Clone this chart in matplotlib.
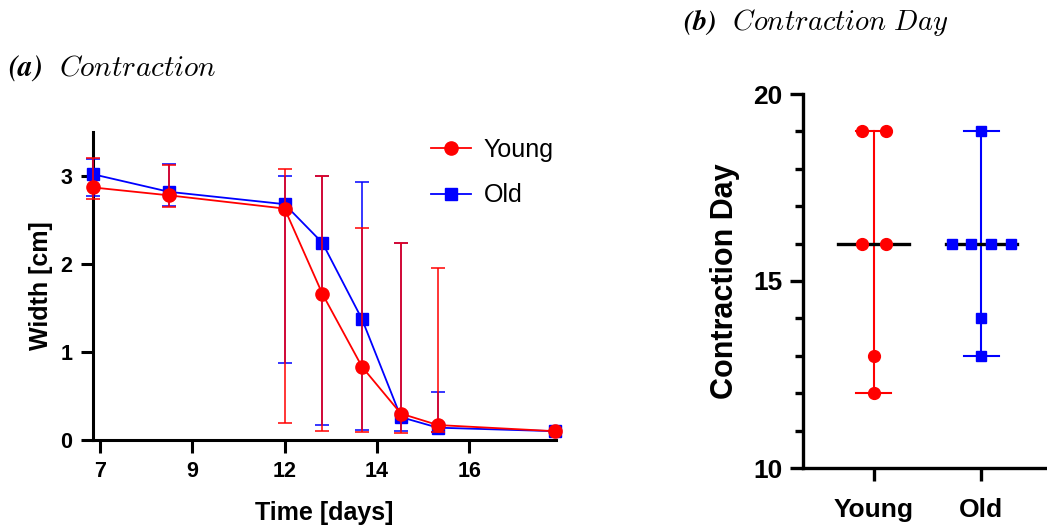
import numpy as np
import matplotlib
matplotlib.use('Agg')
import matplotlib.pyplot as plt
from matplotlib.lines import Line2D

# Panel (a): width over time (mean with min/max bars)
days = [6.85, 8.5, 12, 12.82, 13.68, 14.52, 15.32, 17.86]
young_mean = [2.87, 2.78, 2.63, 1.66, 0.83, 0.30, 0.17, 0.10]
young_low = [2.74, 2.65, 0.19, 0.10, 0.09, 0.08, 0.09, 0.10]
young_high = [3.20, 3.13, 3.08, 3.00, 2.41, 2.24, 1.95, 0.10]
old_mean = [3.02, 2.82, 2.68, 2.24, 1.37, 0.26, 0.14, 0.10]
old_low = [2.77, 2.66, 0.87, 0.17, 0.11, 0.10, 0.09, 0.10]
old_high = [3.19, 3.14, 3.00, 3.00, 2.93, 2.24, 0.55, 0.10]
day_ticks = [7, 9, 12, 14, 16]

# Panel (b): contraction day per sample
groups = ['Young', 'Old']
young_days = [19, 19, 16, 16, 13, 12]
old_days = [19, 16, 16, 16, 16, 14, 13]

plt.rcParams['font.family'] = ['Liberation Sans', 'DejaVu Sans']
plt.rcParams['mathtext.fontset'] = 'cm'

fig = plt.figure(figsize=(10.47, 5.27), dpi=100)

# ---- left panel ----
ax = fig.add_axes([93 / 1047, 1 - 440 / 527, 463 / 1047, 308 / 527])

# axis is evenly spaced between labelled days
knot_d = [3, 7, 9, 12, 14, 16, 20]
knot_p = [-2, 0, 1, 2, 3, 4, 6]
ax.set_xscale('function', functions=(lambda d: np.interp(d, knot_d, knot_p),
                                     lambda p: np.interp(p, knot_p, knot_d)))


def bars(mean, low, high):
    mean = np.array(mean)
    return [mean - np.array(low), np.array(high) - mean]


ax.errorbar(days, old_mean, yerr=bars(old_mean, old_low, old_high), color='#0000ff',
            marker='s', ms=8.5, lw=1.3, elinewidth=1.1, capsize=5, capthick=1.1,
            clip_on=False, zorder=3)
ax.errorbar(days, young_mean, yerr=bars(young_mean, young_low, young_high), color='#ff0000',
            marker='o', ms=9.5, lw=1.3, elinewidth=1.1, capsize=5, capthick=1.1,
            clip_on=False, zorder=4)

ax.set_xlim(6.85, 17.88)
ax.set_ylim(0, 3.5)
ax.set_xticks(day_ticks)
ax.set_xticklabels([str(d) for d in day_ticks])
ax.set_yticks([0, 1, 2, 3])
for s in ['top', 'right']:
    ax.spines[s].set_visible(False)
for s in ['left', 'bottom']:
    ax.spines[s].set_linewidth(2.2)
ax.tick_params(width=2.2, length=9, labelsize=15.5, pad=6)
for lab in ax.get_xticklabels() + ax.get_yticklabels():
    lab.set_fontweight('bold')
ax.set_xlabel('Time [days]', fontsize=18, fontweight='bold', labelpad=14)
ax.set_ylabel('Width [cm]', fontsize=18, fontweight='bold', labelpad=5)

handles = [Line2D([], [], color='#ff0000', marker='o', ms=9.5, lw=1.3),
           Line2D([], [], color='#0000ff', marker='s', ms=8.5, lw=1.3)]
ax.legend(handles, ['Young', 'Old'], loc='upper left', frameon=False,
          bbox_to_anchor=(431 / 1047, 1 - 138 / 527), bbox_transform=fig.transFigure,
          fontsize=18, borderpad=0, borderaxespad=0, handlelength=1.6,
          handletextpad=0.5, labelspacing=0.85)

fig.text(8 / 1047, 1 - 68 / 527, r'$\mathbfit{(a)}\ \ \mathit{Contraction}$',
         fontsize=21, va='center', ha='left')

# ---- right panel ----
ax2 = fig.add_axes([803 / 1047, 1 - 468 / 527, 244 / 1047, 374 / 527])


def swarm(vals, step):
    vals = np.array(vals)
    offs = np.zeros(len(vals))
    for v in np.unique(vals):
        idx = np.where(vals == v)[0]
        n = len(idx)
        offs[idx] = (np.arange(n) - (n - 1) / 2) * step
    return offs


for i, (vals, col, mk, ms, step) in enumerate([(young_days, '#ff0000', 'o', 8.5, 0.22),
                                              (old_days, '#0000ff', 's', 7.8, 0.185)]):
    lo, hi = min(vals), max(vals)
    ax2.plot([i, i], [lo, hi], color=col, lw=1.5, zorder=2)
    ax2.plot([i - 0.163, i + 0.163], [lo, lo], color=col, lw=1.5, zorder=2)
    ax2.plot([i - 0.163, i + 0.163], [hi, hi], color=col, lw=1.5, zorder=2)
    med = np.median(vals)
    ax2.plot([i - 0.33, i + 0.33], [med, med], color='black', lw=2.4, zorder=3)
    ax2.plot(i + swarm(vals, step), vals, linestyle='none', marker=mk, ms=ms,
             color=col, zorder=4, clip_on=False)

ax2.set_xlim(-0.66, 1.61)
ax2.set_ylim(10, 20)
ax2.set_xticks([0, 1])
ax2.set_xticklabels(groups)
ax2.set_yticks([10, 15, 20])
ax2.set_yticks(np.arange(11, 20), minor=True)
for s in ['top', 'right']:
    ax2.spines[s].set_visible(False)
for s in ['left', 'bottom']:
    ax2.spines[s].set_linewidth(2.4)
ax2.tick_params(width=2.4, length=9.5, labelsize=19, pad=5)
ax2.tick_params(axis='x', pad=12)
ax2.tick_params(which='minor', width=2.4, length=6)
for lab in ax2.get_xticklabels() + ax2.get_yticklabels():
    lab.set_fontweight('bold')
ax2.set_ylabel('Contraction Day', fontsize=22, fontweight='bold', labelpad=10)

fig.text(683 / 1047, 1 - 22 / 527, r'$\mathbfit{(b)}\ \ \mathit{Contraction}\ \mathit{Day}$',
         fontsize=20.5, va='center', ha='left')

fig.savefig('out.png', dpi=100)
